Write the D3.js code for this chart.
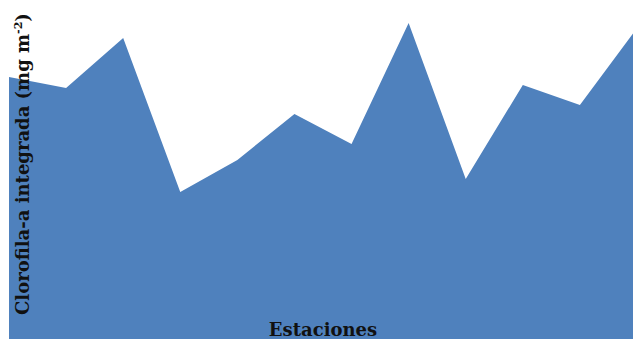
<!DOCTYPE html>
<html>
<head>
<meta charset="utf-8">
<script src="https://cdn.jsdelivr.net/npm/d3@7"></script>
<style>
  html, body { margin: 0; padding: 0; background: #ffffff; }
  svg { display: block; }
</style>
</head>
<body>
<script>
const stations = ["E1","E2","E3","E4","E5","E6","E7","E8","E9","E10","E11","E12"];
const chlorophyll = [262, 251, 301, 147, 179, 225, 195, 316, 160, 254, 234, 311];
const xTitle = "Estaciones";
const yTitle = "Clorofila-a integrada (mg m";

const W = 633, H = 339;
const svg = d3.select("body").append("svg").attr("width", W).attr("height", H);

const x = d3.scalePoint().domain(stations).range([9, 637]);
const y = d3.scaleLinear().domain([0, 339]).range([H, 0]);

const data = stations.map((s, i) => ({ s, v: chlorophyll[i] }));

const area = d3.area()
  .x(d => x(d.s))
  .y0(y(0))
  .y1(d => y(d.v));

svg.append("path")
  .datum(data)
  .attr("d", area)
  .attr("fill", "#4f81bd");

svg.append("text")
  .attr("x", 323)
  .attr("y", 336)
  .attr("text-anchor", "middle")
  .attr("font-family", "DejaVu Serif")
  .attr("font-weight", "bold")
  .attr("font-size", 18)
  .attr("fill", "#111")
  .text(xTitle);

const yt = svg.append("text")
  .attr("transform", "translate(29,315) rotate(-90)")
  .attr("text-anchor", "start")
  .attr("font-family", "DejaVu Serif")
  .attr("font-weight", "bold")
  .attr("font-size", 18)
  .attr("fill", "#111");
yt.append("tspan").text(yTitle);
yt.append("tspan").attr("dy", -7).attr("font-size", 11).text("-2");
yt.append("tspan").attr("dy", 7).text(")");
</script>
</body>
</html>
